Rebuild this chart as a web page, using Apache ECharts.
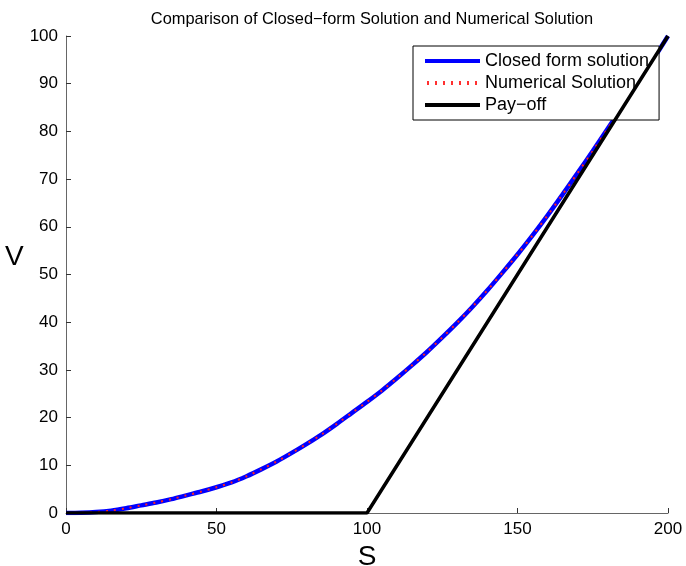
<!DOCTYPE html>
<html>
<head>
<meta charset="utf-8">
<script src="https://cdn.jsdelivr.net/npm/echarts@6/dist/echarts.min.js"></script>
<style>
  html, body { margin: 0; padding: 0; background: #fff; }
  #main { width: 686px; height: 566px; }
</style>
</head>
<body>
<div id="main"></div>
<script>
// stock price S and option value V
let sValues = [0, 5, 10, 15, 20, 25, 30, 35, 40, 45, 50, 55, 60, 65, 70, 75, 80, 85, 90, 95, 100,
    105, 110, 115, 120, 125, 130, 135, 140, 145, 150, 155, 160, 165, 170, 175, 180, 185, 190, 195, 200];
let closedForm = [0, 0.05, 0.2, 0.5, 1.0, 1.6, 2.2, 2.9, 3.7, 4.5, 5.4, 6.4, 7.7, 9.2, 10.8, 12.6, 14.5, 16.5, 18.7, 21.0, 23.3,
    25.7, 28.3, 31.0, 33.8, 36.8, 39.9, 43.2, 46.7, 50.4, 54.2, 58.2, 62.4, 66.8, 71.3, 75.9, 80.6, 85.3, 90.1, 95.0, 100];
let numerical = [0, 0.05, 0.2, 0.5, 1.0, 1.6, 2.2, 2.9, 3.7, 4.5, 5.4, 6.4, 7.7, 9.2, 10.8, 12.6, 14.5, 16.5, 18.7, 21.0, 23.3,
    25.7, 28.3, 31.0, 33.8, 36.8, 39.9, 43.2, 46.7, 50.4, 54.2, 58.2, 62.4, 66.8, 71.3, 75.9, 80.6, 85.3, 90.1, 95.0, 100];
let payoffS = [0, 100, 200];
let payoffV = [0, 0, 100];

let chartDom = document.getElementById('main');
let myChart = echarts.init(chartDom);

let pairs = (xs, ys) => xs.map((x, i) => [x, ys[i]]);
let font = 'Liberation Sans, Arial, sans-serif';

// legend icons: 55 x 5 boxes so the aspect is kept
let solidIcon = 'path://M0,0.5 L55,0.5 L55,4.5 L0,4.5 Z M0,0 L0.01,0 Z M0,5 L0.01,5 Z';
let dotIcon = 'path://M0,0 L0.01,0 Z M55,5 L54.99,5 Z M2,0.5 L4,0.5 L4,4.5 L2,4.5 Z M10,0.5 L12,0.5 L12,4.5 L10,4.5 Z M18,0.5 L20,0.5 L20,4.5 L18,4.5 Z M26,0.5 L28,0.5 L28,4.5 L26,4.5 Z M34,0.5 L36,0.5 L36,4.5 L34,4.5 Z M42,0.5 L44,0.5 L44,4.5 L42,4.5 Z M50,0.5 L52,0.5 L52,4.5 L50,4.5 Z';

let option = {
    animation: false,
    backgroundColor: '#fff',
    textStyle: { fontFamily: font },
    title: {
        text: 'Comparison of Closed\u2212form Solution and Numerical Solution',
        left: 367,
        textAlign: 'center',
        top: 6,
        textStyle: { fontSize: 16.4, fontWeight: 'normal', color: '#000', fontFamily: font }
    },
    legend: {
        orient: 'vertical',
        left: 413,
        top: 46,
        itemWidth: 55,
        itemHeight: 14,
        itemGap: 4,
        padding: [6, 10, 6, 12],
        borderColor: '#000',
        borderWidth: 1,
        backgroundColor: '#fff',
        textStyle: { fontSize: 18, lineHeight: 18, color: '#000', fontFamily: font },
        data: [
            { name: 'Closed form solution', icon: solidIcon, itemStyle: { color: '#0000ff' } },
            { name: 'Numerical Solution', icon: dotIcon, itemStyle: { color: '#ff3030' } },
            { name: 'Pay\u2212off', icon: solidIcon, itemStyle: { color: '#000' } }
        ]
    },
    grid: { left: 66, right: 18, top: 36, bottom: 53, outerBoundsMode: 'none' },
    xAxis: {
        type: 'value',
        min: 0,
        max: 200,
        interval: 50,
        name: 'S',
        nameLocation: 'middle',
        nameGap: 28,
        nameTextStyle: { fontSize: 28, color: '#000' },
        axisLine: { lineStyle: { color: '#666', width: 1 } },
        axisTick: { inside: true, length: 5, lineStyle: { color: '#333' } },
        axisLabel: { fontSize: 17, color: '#000', margin: 8 },
        splitLine: { show: false }
    },
    yAxis: {
        type: 'value',
        min: 0,
        max: 100,
        interval: 10,
        name: 'V',
        nameLocation: 'middle',
        nameRotate: 0,
        nameGap: 35,
        nameTextStyle: { fontSize: 28, color: '#000', verticalAlign: 'bottom', lineHeight: 34 },
        axisLine: { show: true, lineStyle: { color: '#666', width: 1 } },
        axisTick: { show: true, inside: true, length: 5, lineStyle: { color: '#333' } },
        axisLabel: { fontSize: 17, color: '#000', margin: 8 },
        splitLine: { show: false }
    },
    series: [
        {
            name: 'Closed form solution',
            type: 'line',
            data: pairs(sValues, closedForm),
            smooth: 0.3,
            showSymbol: false,
            lineStyle: { color: '#0000ff', width: 4.5 },
            itemStyle: { color: '#0000ff' },
            z: 2
        },
        {
            name: 'Numerical Solution',
            type: 'line',
            data: pairs(sValues, numerical),
            smooth: 0.3,
            showSymbol: false,
            lineStyle: { color: '#ff2020', width: 2, type: [2, 6] },
            itemStyle: { color: '#ff2020' },
            z: 3
        },
        {
            name: 'Pay\u2212off',
            type: 'line',
            data: pairs(payoffS, payoffV),
            showSymbol: false,
            lineStyle: { color: '#000', width: 3.5 },
            itemStyle: { color: '#000' },
            z: 4
        }
    ]
};

option && myChart.setOption(option);
</script>
</body>
</html>
